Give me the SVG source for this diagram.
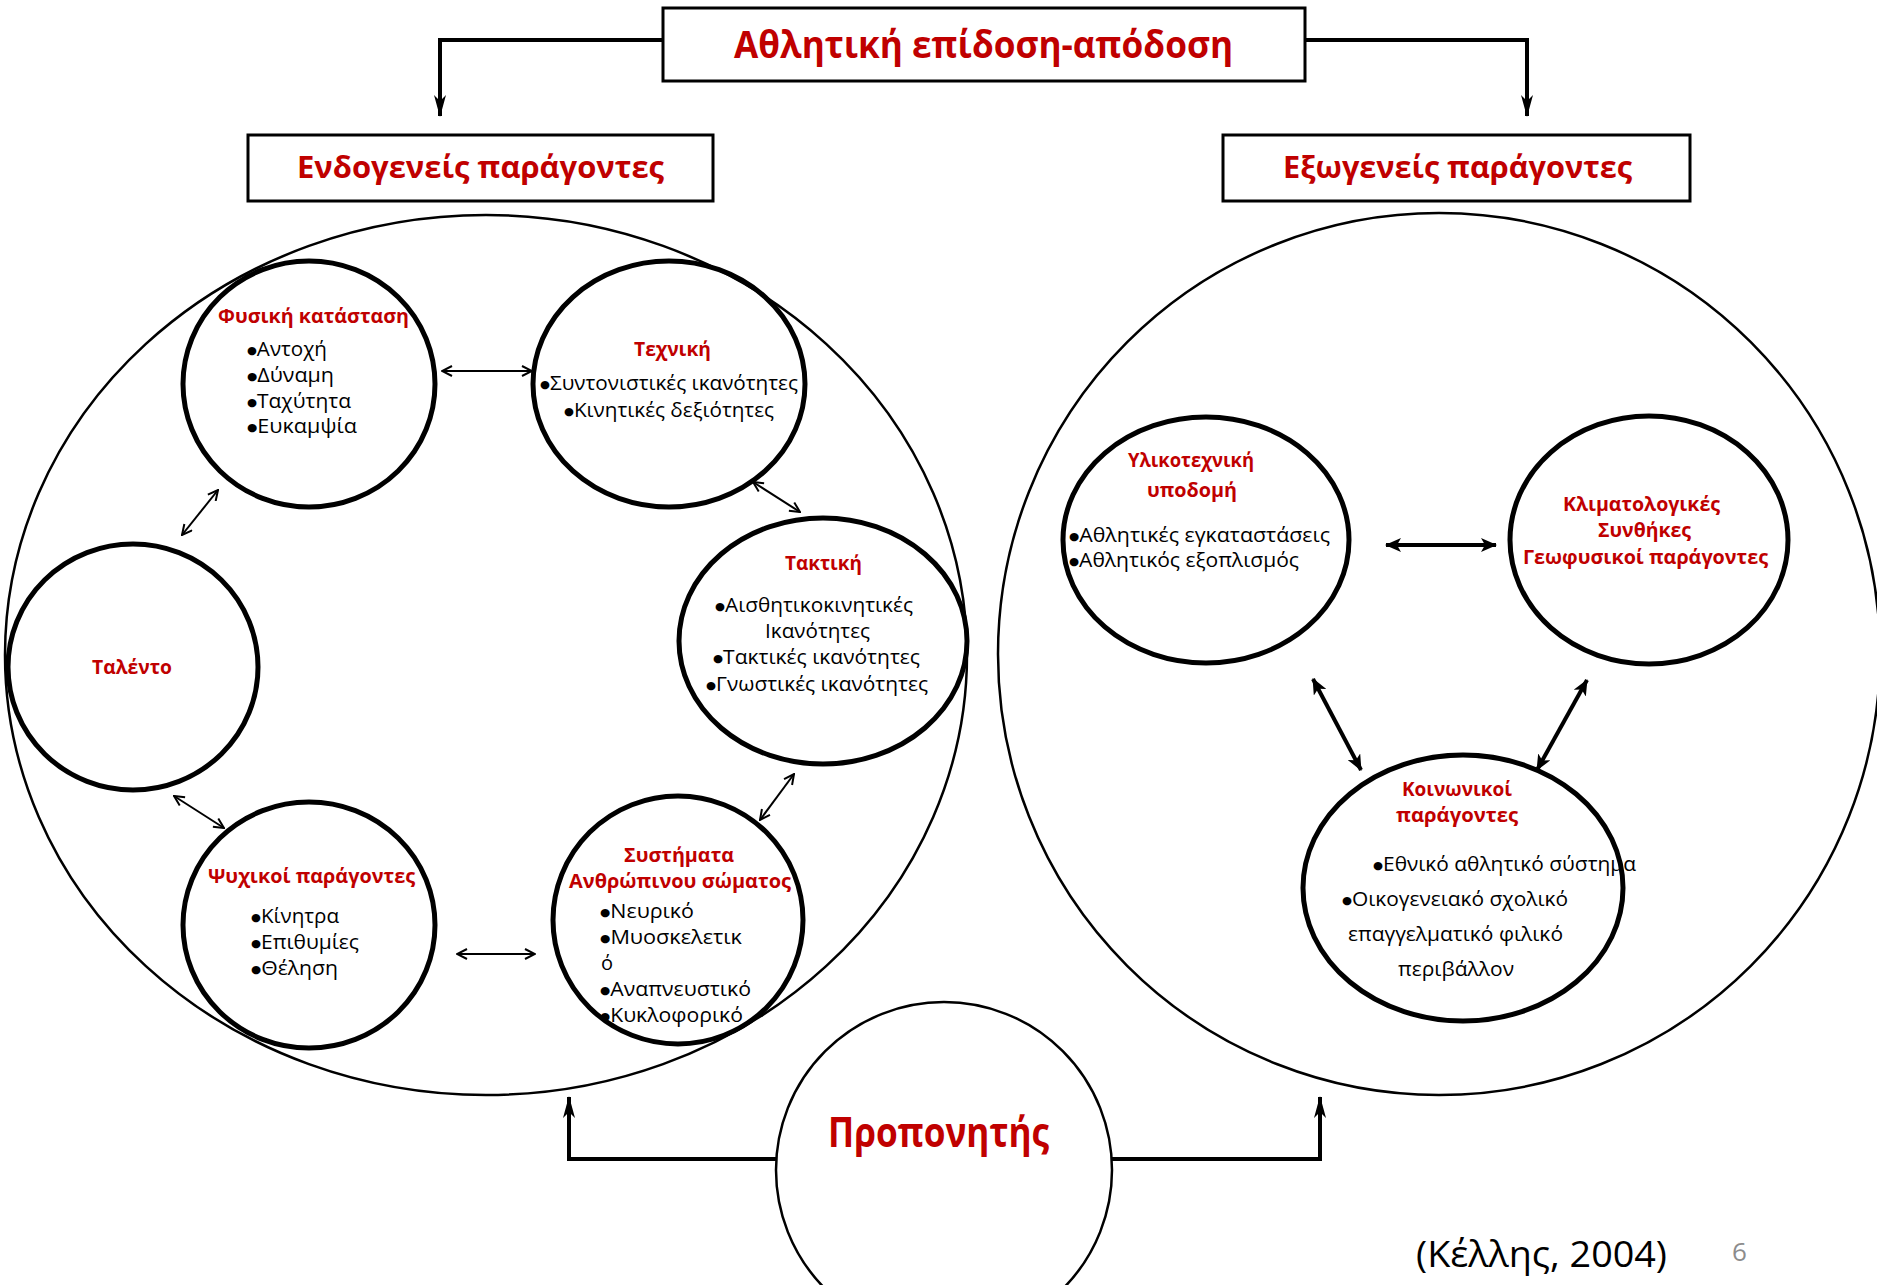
<svg xmlns="http://www.w3.org/2000/svg" width="1877" height="1285" viewBox="0 0 1877 1285">
<style>
.bg{fill:#fff}
.box{fill:#fff;stroke:#000;stroke-width:3}
.big{fill:none;stroke:#000;stroke-width:2.5}
.node{fill:none;stroke:#000;stroke-width:5}
.coach{fill:#fff;stroke:#000;stroke-width:2.5}
text{font-family:"Open Sans","Noto Sans","DejaVu Sans",sans-serif}
.t{fill:#C00000;font-weight:bold}
.b{fill:#000;font-size:20px}
.h{font-size:20px}
.d{font-size:11px;font-family:"DejaVu Sans",sans-serif}
.thin{fill:none;stroke:#000;stroke-width:2}
.thick{fill:none;stroke:#000;stroke-width:4}
.conn{fill:none;stroke:#000;stroke-width:4}
</style>
<defs>
<marker id="mThin" viewBox="0 0 12 12" refX="11" refY="6" markerWidth="12" markerHeight="12" markerUnits="userSpaceOnUse" orient="auto-start-reverse"><path d="M1,1 L11,6 L1,11" fill="none" stroke="#000" stroke-width="2"/></marker>
<marker id="mThick" viewBox="0 0 16 14" refX="15" refY="7" markerWidth="16" markerHeight="14" markerUnits="userSpaceOnUse" orient="auto-start-reverse"><path d="M0,0 L16,7 L0,14 L4,7 z" fill="#000"/></marker>
<marker id="mBig" viewBox="0 0 22 12" refX="21" refY="6" markerWidth="22" markerHeight="12" markerUnits="userSpaceOnUse" orient="auto"><path d="M0,0 L22,6 L0,12 L6,6 z" fill="#000"/></marker>
</defs>
<rect class="bg" x="0" y="0" width="1877" height="1285"/>

<g id="endo-area"><ellipse class="big" cx="486" cy="655" rx="481" ry="440"/></g>
<g id="exo-area"><ellipse class="big" cx="1439" cy="654" rx="441" ry="441"/></g>

<g id="connectors">
<path class="conn" d="M663,40 H440 V116" marker-end="url(#mBig)"/>
<path class="conn" d="M1305,40 H1527 V116" marker-end="url(#mBig)"/>
<path class="conn" d="M777,1159 H569 V1097" marker-end="url(#mBig)"/>
<path class="conn" d="M1112,1159 H1320 V1097" marker-end="url(#mBig)"/>
<line class="thin" x1="442" y1="371" x2="532" y2="371" marker-start="url(#mThin)" marker-end="url(#mThin)"/>
<line class="thin" x1="753" y1="482" x2="800" y2="512" marker-start="url(#mThin)" marker-end="url(#mThin)"/>
<line class="thin" x1="794" y1="774" x2="760" y2="820" marker-start="url(#mThin)" marker-end="url(#mThin)"/>
<line class="thin" x1="457" y1="954" x2="535" y2="954" marker-start="url(#mThin)" marker-end="url(#mThin)"/>
<line class="thin" x1="174" y1="796" x2="224" y2="828" marker-start="url(#mThin)" marker-end="url(#mThin)"/>
<line class="thin" x1="182" y1="535" x2="218" y2="490" marker-start="url(#mThin)" marker-end="url(#mThin)"/>
<line class="thick" x1="1386" y1="545" x2="1496" y2="545" marker-start="url(#mThick)" marker-end="url(#mThick)"/>
<line class="thick" x1="1313" y1="679" x2="1361" y2="770" marker-start="url(#mThick)" marker-end="url(#mThick)"/>
<line class="thick" x1="1587" y1="680" x2="1537" y2="770" marker-start="url(#mThick)" marker-end="url(#mThick)"/>
</g>

<g id="top">
<rect class="box" x="663" y="8" width="642" height="73"/>
<text class="t" x="983.5" y="58" font-size="37" text-anchor="middle" textLength="499" lengthAdjust="spacingAndGlyphs">Αθλητική επίδοση-απόδοση</text>
</g>
<g id="endo">
<rect class="box" x="248" y="135" width="465" height="66"/>
<text class="t" x="480.5" y="178" font-size="31" text-anchor="middle" textLength="367" lengthAdjust="spacingAndGlyphs">Ενδογενείς παράγοντες</text>
</g>
<g id="exo">
<rect class="box" x="1223" y="135" width="467" height="66"/>
<text class="t" x="1457.5" y="178" font-size="31" text-anchor="middle" textLength="349" lengthAdjust="spacingAndGlyphs">Εξωγενείς παράγοντες</text>
</g>

<g id="fysiki">
<ellipse class="node" cx="309" cy="384" rx="126" ry="123"/>
<text class="t h" x="218" y="323" textLength="191" lengthAdjust="spacingAndGlyphs">Φυσική κατάσταση</text>
<text class="b" x="247" y="356" textLength="80" lengthAdjust="spacingAndGlyphs"><tspan class="d" dy="-2">●</tspan><tspan dy="2">Αντοχή</tspan></text>
<text class="b" x="247" y="382" textLength="87" lengthAdjust="spacingAndGlyphs"><tspan class="d" dy="-2">●</tspan><tspan dy="2">Δύναμη</tspan></text>
<text class="b" x="247" y="408" textLength="104" lengthAdjust="spacingAndGlyphs"><tspan class="d" dy="-2">●</tspan><tspan dy="2">Ταχύτητα</tspan></text>
<text class="b" x="247" y="433" textLength="110" lengthAdjust="spacingAndGlyphs"><tspan class="d" dy="-2">●</tspan><tspan dy="2">Ευκαμψία</tspan></text>
</g>

<g id="texniki">
<ellipse class="node" cx="669" cy="384" rx="136" ry="123"/>
<text class="t h" x="634" y="356" textLength="77" lengthAdjust="spacingAndGlyphs">Τεχνική</text>
<text class="b" x="540" y="390" textLength="258" lengthAdjust="spacingAndGlyphs"><tspan class="d" dy="-2">●</tspan><tspan dy="2">Συντονιστικές ικανότητες</tspan></text>
<text class="b" x="564" y="417" textLength="210" lengthAdjust="spacingAndGlyphs"><tspan class="d" dy="-2">●</tspan><tspan dy="2">Κινητικές δεξιότητες</tspan></text>
</g>

<g id="taktiki">
<ellipse class="node" cx="823" cy="641" rx="144" ry="123"/>
<text class="t h" x="785" y="570" textLength="77" lengthAdjust="spacingAndGlyphs">Τακτική</text>
<text class="b" x="715" y="612" textLength="198" lengthAdjust="spacingAndGlyphs"><tspan class="d" dy="-2">●</tspan><tspan dy="2">Αισθητικοκινητικές</tspan></text>
<text class="b" x="765" y="638" textLength="105" lengthAdjust="spacingAndGlyphs">Ικανότητες</text>
<text class="b" x="713" y="664" textLength="207" lengthAdjust="spacingAndGlyphs"><tspan class="d" dy="-2">●</tspan><tspan dy="2">Τακτικές ικανότητες</tspan></text>
<text class="b" x="706" y="691" textLength="222" lengthAdjust="spacingAndGlyphs"><tspan class="d" dy="-2">●</tspan><tspan dy="2">Γνωστικές ικανότητες</tspan></text>
</g>

<g id="talento">
<ellipse class="node" cx="133" cy="667" rx="125" ry="123"/>
<text class="t h" x="92" y="674" textLength="80" lengthAdjust="spacingAndGlyphs">Ταλέντο</text>
</g>

<g id="psyxikoi">
<ellipse class="node" cx="309" cy="925" rx="126" ry="123"/>
<text class="t h" x="208" y="883" textLength="207" lengthAdjust="spacingAndGlyphs">Ψυχικοί παράγοντες</text>
<text class="b" x="251" y="923" textLength="88" lengthAdjust="spacingAndGlyphs"><tspan class="d" dy="-2">●</tspan><tspan dy="2">Κίνητρα</tspan></text>
<text class="b" x="251" y="949" textLength="108" lengthAdjust="spacingAndGlyphs"><tspan class="d" dy="-2">●</tspan><tspan dy="2">Επιθυμίες</tspan></text>
<text class="b" x="251" y="975" textLength="87" lengthAdjust="spacingAndGlyphs"><tspan class="d" dy="-2">●</tspan><tspan dy="2">Θέληση</tspan></text>
</g>

<g id="systimata">
<ellipse class="node" cx="678" cy="920" rx="125" ry="124"/>
<text class="t h" x="624" y="862" textLength="110" lengthAdjust="spacingAndGlyphs">Συστήματα</text>
<text class="t h" x="569" y="888" textLength="222" lengthAdjust="spacingAndGlyphs">Ανθρώπινου σώματος</text>
<text class="b" x="600" y="918" textLength="94" lengthAdjust="spacingAndGlyphs"><tspan class="d" dy="-2">●</tspan><tspan dy="2">Νευρικό</tspan></text>
<text class="b" x="600" y="944" textLength="142" lengthAdjust="spacingAndGlyphs"><tspan class="d" dy="-2">●</tspan><tspan dy="2">Μυοσκελετικ</tspan></text>
<text class="b" x="601" y="970">ό</text>
<text class="b" x="600" y="996" textLength="151" lengthAdjust="spacingAndGlyphs"><tspan class="d" dy="-2">●</tspan><tspan dy="2">Αναπνευστικό</tspan></text>
<text class="b" x="600" y="1022" textLength="143" lengthAdjust="spacingAndGlyphs"><tspan class="d" dy="-2">●</tspan><tspan dy="2">Κυκλοφορικό</tspan></text>
</g>

<g id="ylikotexniki">
<ellipse class="node" cx="1206" cy="540" rx="143" ry="123"/>
<text class="t h" x="1128" y="467" textLength="126" lengthAdjust="spacingAndGlyphs">Υλικοτεχνική</text>
<text class="t h" x="1147" y="497" textLength="90" lengthAdjust="spacingAndGlyphs">υποδομή</text>
<text class="b" x="1069" y="542" textLength="261" lengthAdjust="spacingAndGlyphs"><tspan class="d" dy="-2">●</tspan><tspan dy="2">Αθλητικές εγκαταστάσεις</tspan></text>
<text class="b" x="1069" y="567" textLength="230" lengthAdjust="spacingAndGlyphs"><tspan class="d" dy="-2">●</tspan><tspan dy="2">Αθλητικός εξοπλισμός</tspan></text>
</g>

<g id="klimatologikes">
<ellipse class="node" cx="1649" cy="540" rx="139" ry="124"/>
<text class="t h" x="1563" y="511" textLength="157" lengthAdjust="spacingAndGlyphs">Κλιματολογικές</text>
<text class="t h" x="1598" y="537" textLength="93" lengthAdjust="spacingAndGlyphs">Συνθήκες</text>
<text class="t h" x="1523" y="564" textLength="245" lengthAdjust="spacingAndGlyphs">Γεωφυσικοί παράγοντες</text>
</g>

<g id="koinonikoi">
<ellipse class="node" cx="1463" cy="888" rx="160" ry="133"/>
<text class="t h" x="1402" y="796" textLength="110" lengthAdjust="spacingAndGlyphs">Κοινωνικοί</text>
<text class="t h" x="1396" y="822" textLength="122" lengthAdjust="spacingAndGlyphs">παράγοντες</text>
<text class="b" x="1373" y="871" textLength="263" lengthAdjust="spacingAndGlyphs"><tspan class="d" dy="-2">●</tspan><tspan dy="2">Εθνικό αθλητικό σύστημα</tspan></text>
<text class="b" x="1342" y="906" textLength="226" lengthAdjust="spacingAndGlyphs"><tspan class="d" dy="-2">●</tspan><tspan dy="2">Οικογενειακό σχολικό</tspan></text>
<text class="b" x="1348" y="941" textLength="215" lengthAdjust="spacingAndGlyphs">επαγγελματικό φιλικό</text>
<text class="b" x="1398" y="976" textLength="116" lengthAdjust="spacingAndGlyphs">περιβάλλον</text>
</g>

<g id="proponitis">
<ellipse class="coach" cx="944" cy="1170" rx="168" ry="168"/>
<text class="t" x="828" y="1147" font-size="41" textLength="221" lengthAdjust="spacingAndGlyphs">Προπονητής</text>
</g>

<text x="1416" y="1267" font-size="36" fill="#000" textLength="251" lengthAdjust="spacingAndGlyphs">(Κέλλης, 2004)</text>
<text x="1732" y="1261" font-size="26" fill="#8c8c8c">6</text>
</svg>
